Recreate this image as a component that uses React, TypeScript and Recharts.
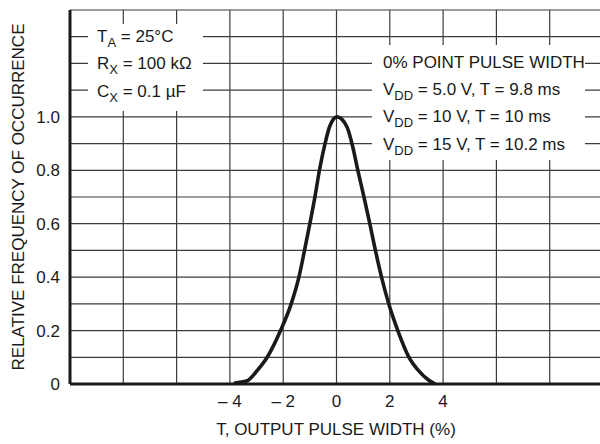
import React from 'react';
import { LineChart, Line, XAxis, YAxis, CartesianGrid } from 'recharts';

// output pulse width deviation (%) and relative frequency of occurrence
const pulseWidth = [-3.85, -3.35, -2.98, -2.6, -2.1, -1.7, -1.41, -1.2, -1.0, -0.81, -0.64, -0.43, -0.26, 0.02, 0.39, 0.58, 0.8, 1.03, 1.25, 1.46, 1.69, 1.96, 2.3, 2.72, 3.08, 3.45, 3.71];
const frequency = [0.003, 0.012, 0.05, 0.1, 0.2, 0.3, 0.4, 0.5, 0.6, 0.7, 0.8, 0.9, 0.963, 1.0, 0.963, 0.9, 0.8, 0.7, 0.6, 0.5, 0.4, 0.3, 0.2, 0.1, 0.05, 0.015, 0];

const xTicks = [-4, -2, 0, 2, 4];
const yTicks = [0, 0.2, 0.4, 0.6, 0.8, 1.0];
const xGridTicks = [-10, -8, -6, -4, -2, 0, 2, 4, 6, 8, 10];
const yGridTicks = [0, 0.1, 0.2, 0.3, 0.4, 0.5, 0.6, 0.7, 0.8, 0.9, 1.0, 1.1, 1.2, 1.3, 1.4];

const data = pulseWidth.map((x, i) => ({ x, y: frequency[i] }));

const FONT = '"Liberation Sans", Arial, sans-serif';
const INK = '#1a1a1a';

const tickStyle = { fontSize: 17, fill: INK, fontFamily: FONT };

const Sub = ({ children }: { children: React.ReactNode }) => (
  <span style={{ fontSize: 13, position: 'relative', top: 5 }}>{children}</span>
);

const boxStyle: React.CSSProperties = {
  position: 'absolute',
  background: '#fff',
  fontFamily: FONT,
  fontSize: 17,
  color: INK,
  lineHeight: '26.67px',
  whiteSpace: 'nowrap',
  boxSizing: 'border-box',
};

const App: React.FC = () => {
  return (
    <div style={{ position: 'relative', width: 603, height: 444, background: '#fff' }}>
      <style>{'body{margin:0;overflow:hidden;background:#fff}'}</style>
      <LineChart width={603} height={444} data={data} margin={{ top: 10, right: 0, bottom: 0, left: 0 }}>
        <XAxis xAxisId="grid" dataKey="x" type="number" domain={[-10, 10]} ticks={xGridTicks} interval={0} hide />
        <YAxis yAxisId="grid" dataKey="y" type="number" domain={[0, 1.4]} ticks={yGridTicks} interval={0} hide />
        <CartesianGrid xAxisId="grid" yAxisId="grid" stroke="#3c3c3c" strokeWidth={1.2} />
        <XAxis
          dataKey="x"
          type="number"
          domain={[-10, 10]}
          ticks={xTicks}
          interval={0}
          height={60}
          tickLine={false}
          tickSize={0}
          tickMargin={11}
          axisLine={{ stroke: INK, strokeWidth: 3 }}
          tick={tickStyle}
          tickFormatter={(v: number) => (v < 0 ? `\u2013 ${-v}` : `${v}`)}
        />
        <YAxis
          dataKey="y"
          type="number"
          domain={[0, 1.4]}
          ticks={yTicks}
          interval={0}
          width={70}
          tickLine={false}
          tickSize={0}
          tickMargin={10}
          axisLine={{ stroke: INK, strokeWidth: 3 }}
          tick={tickStyle}
          tickFormatter={(v: number) => (v === 0 ? '0' : v.toFixed(1))}
        />
        <Line
          type="monotone"
          dataKey="y"
          stroke={INK}
          strokeWidth={3.6}
          dot={false}
          isAnimationActive={false}
        />
      </LineChart>

      {/* conditions */}
      <div style={{ ...boxStyle, left: 88, top: 23.7, width: 115, paddingBottom: 4, paddingLeft: 9 }}>
        <div>T<Sub>A</Sub> = 25°C</div>
        <div>R<Sub>X</Sub> = 100 kΩ</div>
        <div>C<Sub>X</Sub> = 0.1 µF</div>
      </div>

      {/* 0% point pulse widths */}
      <div style={{ ...boxStyle, left: 372, top: 45, width: 213, paddingTop: 5, paddingLeft: 11 }}>
        <div>0% POINT PULSE WIDTH</div>
        <div>V<Sub>DD</Sub> = 5.0 V, T = 9.8 ms</div>
        <div>V<Sub>DD</Sub> = 10 V, T = 10 ms</div>
        <div>V<Sub>DD</Sub> = 15 V, T = 10.2 ms</div>
      </div>

      <div
        style={{
          position: 'absolute',
          left: 19,
          top: 197,
          transform: 'translate(-50%, -50%) rotate(-90deg)',
          fontFamily: FONT,
          fontSize: 17,
          color: INK,
          whiteSpace: 'nowrap',
        }}
      >
        RELATIVE FREQUENCY OF OCCURRENCE
      </div>
      <div
        style={{
          position: 'absolute',
          left: 336,
          top: 430,
          transform: 'translate(-50%, -50%)',
          fontFamily: FONT,
          fontSize: 17,
          color: INK,
          whiteSpace: 'nowrap',
        }}
      >
        T, OUTPUT PULSE WIDTH (%)
      </div>
    </div>
  );
};

export default App;
